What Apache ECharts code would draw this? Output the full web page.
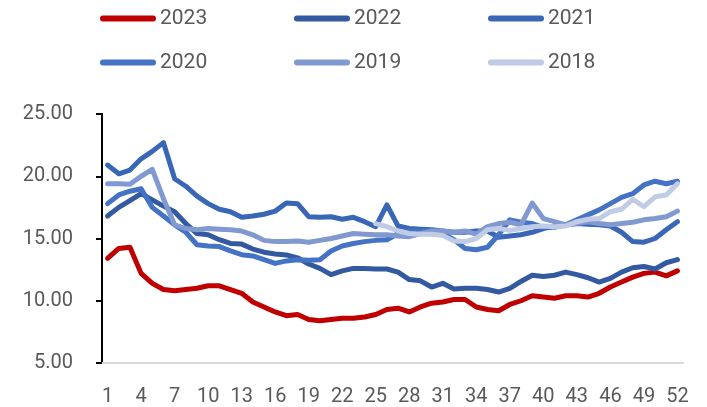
<!DOCTYPE html>
<html>
<head>
<meta charset="utf-8">
<script src="https://cdn.jsdelivr.net/npm/echarts@6/dist/echarts.min.js"></script>
<style>
  html, body { margin: 0; padding: 0; background: #fff; }
</style>
</head>
<body>
<div id="main" style="width:707px;height:407px;"></div>
<script>
// weeks 1..52
var weeks = [];
for (var i = 1; i <= 52; i++) weeks.push(String(i));

var years = ['2023', '2022', '2021', '2020', '2019', '2018'];
var colors = ['#C00000', '#335AA0', '#3A67B5', '#4472C4', '#8199D1', '#C0CBE6'];

var s2023 = [13.4, 14.2, 14.3, 12.2, 11.4, 10.9, 10.8, 10.9, 11.0, 11.2, 11.2, 10.9, 10.6, 9.9, 9.5, 9.1, 8.8, 8.9,
  8.5, 8.4, 8.5, 8.6, 8.6, 8.7, 8.9, 9.3, 9.4, 9.1, 9.5, 9.8, 9.9, 10.1, 10.1, 9.5, 9.3, 9.2,
  9.7, 10.0, 10.4, 10.3, 10.2, 10.4, 10.4, 10.3, 10.6, 11.1, 11.5, 11.9, 12.2, 12.3, 12.0, 12.4];
var s2022 = [16.8, 17.5, 18.05, 18.6, 18.1, 17.6, 17.15, 16.2, 15.4, 15.3, 14.9, 14.6, 14.55, 14.15, 13.9, 13.75, 13.68, 13.45,
  12.95, 12.6, 12.1, 12.4, 12.6, 12.6, 12.55, 12.55, 12.3, 11.7, 11.6, 11.1, 11.4, 10.95, 11.0, 11.0, 10.9, 10.7,
  11.0, 11.55, 12.05, 11.95, 12.05, 12.3, 12.1, 11.85, 11.5, 11.8, 12.3, 12.65, 12.75, 12.55, 13.05, 13.3];
var s2021 = [20.9, 20.2, 20.5, 21.4, 22.0, 22.7, 19.8, 19.2, 18.4, 17.8, 17.35, 17.15, 16.7, 16.8, 16.95, 17.2, 17.85, 17.8,
  16.75, 16.7, 16.75, 16.55, 16.7, 16.35, 15.95, 17.7, 16.0, 15.8, 15.75, 15.7, 15.6, 15.5, 15.5, 15.6, 15.6, 15.1,
  15.2, 15.3, 15.5, 15.8, 16.0, 16.1, 16.2, 16.15, 16.1, 16.0, 15.5, 14.75, 14.7, 15.0, 15.7, 16.35];
var s2020 = [17.8, 18.5, 18.8, 19.0, 17.5, 16.8, 16.1, 15.5, 14.5, 14.4, 14.35, 14.0, 13.7, 13.6, 13.3, 13.0, 13.2, 13.3,
  13.25, 13.3, 14.0, 14.4, 14.6, 14.75, 14.85, 14.9, 15.4, 15.6, 15.6, 15.6, 15.4, 14.9, 14.2, 14.1, 14.3, 15.3,
  16.5, 16.3, 16.2, 15.9, 15.9, 16.1, 16.5, 16.9, 17.3, 17.8, 18.3, 18.6, 19.3, 19.6, 19.4, 19.6];
var s2019 = [19.4, 19.4, 19.35, 20.0, 20.55, 18.2, 16.1, 15.8, 15.7, 15.8, 15.75, 15.7, 15.6, 15.3, 14.85, 14.75, 14.75, 14.8,
  14.7, 14.85, 15.0, 15.2, 15.4, 15.35, 15.3, 15.3, 15.2, 15.15, 15.4, 15.6, 15.6, 15.5, 15.6, 15.35, 15.95, 16.2,
  16.3, 16.1, 17.85, 16.6, 16.35, 16.1, 16.2, 16.35, 16.2, 16.1, 16.2, 16.3, 16.5, 16.6, 16.75, 17.2];
var s2018 = [null, null, null, null, null, null, null, null, null, null, null, null, null, null, null, null, null, null,
  null, null, null, null, null, null, 16.2, 15.95, 15.6, 15.4, 15.35, 15.35, 15.25, 14.8, 14.75, 15.0, 15.7, 15.8,
  15.65, 15.8, 15.95, 16.0, 15.95, 16.0, 16.35, 16.55, 16.6, 17.15, 17.35, 18.15, 17.55, 18.35, 18.5, 19.4];

var seriesData = [s2023, s2022, s2021, s2020, s2019, s2018];

var yTicks = [5, 10, 15, 20, 25];

var myChart = echarts.init(document.getElementById('main'));

var pill = 'path://M3,0H53A3,3,0,0,1,53,6H3A3,3,0,0,1,3,0Z';
var legendLeft = [100, 294, 488];
var legendTop = [8, 52];

var legends = years.map(function (y, k) {
  return {
    data: [y],
    left: legendLeft[k % 3],
    top: legendTop[Math.floor(k / 3)],
    padding: 0,
    icon: pill,
    itemWidth: 56,
    itemHeight: 6,
    itemGap: 0,
    selectedMode: false,
    textStyle: {
      color: '#595959',
      fontFamily: 'Roboto',
      fontSize: 21,
      padding: [0, 0, 0, -1]
    }
  };
});

myChart.setOption({
  animation: false,
  color: colors,
  legend: legends,
  grid: {
    left: 102,
    right: 24,
    top: 114,
    bottom: 44,
    containLabel: false
  },
  xAxis: {
    type: 'category',
    data: weeks,
    boundaryGap: true,
    axisLine: { show: true, lineStyle: { color: '#d9d9d9', width: 2 } },
    axisTick: { show: false },
    splitLine: { show: false },
    axisLabel: {
      interval: 2,
      margin: 24,
      color: '#595959',
      fontFamily: 'Roboto',
      fontSize: 20
    }
  },
  yAxis: {
    type: 'value',
    min: yTicks[0],
    max: yTicks[yTicks.length - 1],
    interval: 5,
    axisLine: { show: true, lineStyle: { color: '#000', width: 2 } },
    axisTick: { show: true, inside: false, length: 6, lineStyle: { color: '#000', width: 2 } },
    splitLine: { show: false },
    axisLabel: {
      margin: 29,
      color: '#595959',
      fontFamily: 'Roboto',
      fontSize: 20,
      formatter: function (v) { return v.toFixed(2); }
    }
  },
  series: years.map(function (y, k) {
    return {
      name: y,
      type: 'line',
      data: seriesData[k],
      showSymbol: false,
      symbol: 'none',
      connectNulls: false,
      lineStyle: { width: 5, color: colors[k], cap: 'round', join: 'round' },
      itemStyle: { color: colors[k] }
    };
  })
});
</script>
</body>
</html>
